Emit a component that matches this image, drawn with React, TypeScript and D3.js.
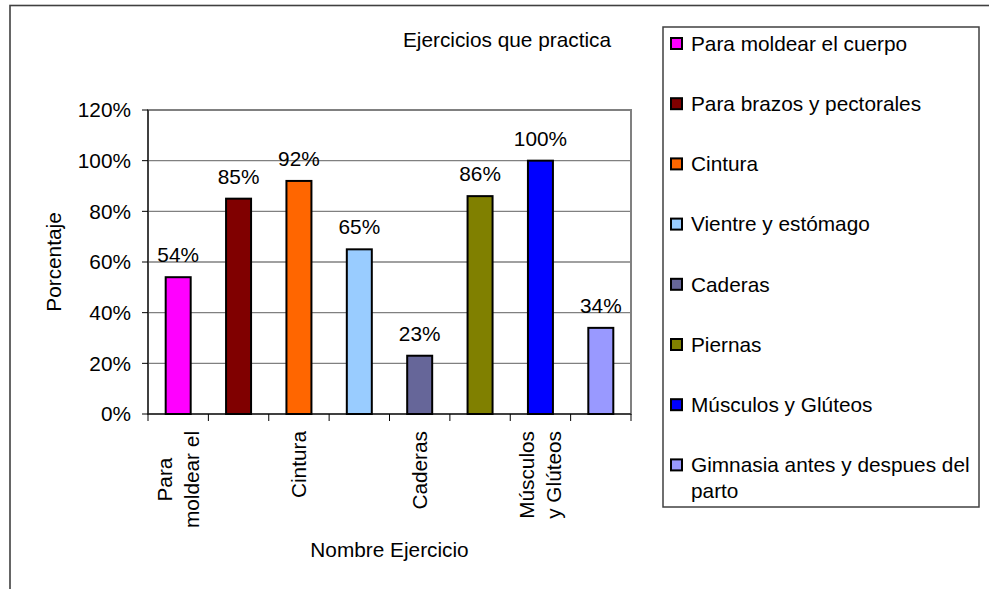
import React, { useMemo } from "react";
import { scaleBand, scaleLinear, range } from "d3";

// chart data
const categories = [
  "Para moldear el cuerpo",
  "Para brazos y pectorales",
  "Cintura",
  "Vientre y estómago",
  "Caderas",
  "Piernas",
  "Músculos y Glúteos",
  "Gimnasia antes y despues del parto",
];
const values = [0.54, 0.85, 0.92, 0.65, 0.23, 0.86, 1.0, 0.34];
const colors = [
  "#FF00FF",
  "#800000",
  "#FF6600",
  "#99CCFF",
  "#666699",
  "#808000",
  "#0000FF",
  "#9999FF",
];
// Excel only shows every other category label, cut and wrapped
const xTickLines = [
  ["Para", "moldear el"],
  [],
  ["Cintura"],
  [],
  ["Caderas"],
  [],
  ["Músculos", "y Glúteos"],
  [],
];
const yTicks = [0, 0.2, 0.4, 0.6, 0.8, 1.0, 1.2];

const FONT = "'Liberation Sans', Arial, Helvetica, sans-serif";
const FS = 20.8;

let ctx = null;
function textWidth(s) {
  if (!ctx) ctx = document.createElement("canvas").getContext("2d");
  ctx.font = `${FS}px ${FONT}`;
  return ctx.measureText(s).width;
}

function wrap(s, maxW) {
  const words = s.split(" ");
  const lines = [];
  let cur = "";
  words.forEach((w) => {
    const t = cur ? cur + " " + w : w;
    if (textWidth(t) > maxW && cur) {
      lines.push(cur);
      cur = w;
    } else cur = t;
  });
  if (cur) lines.push(cur);
  return lines;
}

function App() {
  const width = 989;
  const height = 589;
  const plot = { left: 148, right: 631, top: 110, bottom: 414 };
  const legend = { x: 663, y: 27, w: 316, h: 480 };

  const xScale = scaleBand()
    .domain(categories)
    .range([plot.left, plot.right])
    .paddingInner(0.586)
    .paddingOuter(0.293);
  const step = xScale.step();

  const yScale = scaleLinear().domain([0, 1.2]).range([plot.bottom, plot.top]);

  const legendLines = useMemo(
    () => categories.map((c) => wrap(c, legend.x + legend.w - 692 - 4)),
    []
  );

  const lineH = 27.5;

  return (
    <svg
      width={width}
      height={height}
      style={{ position: "absolute", left: 0, top: 0, background: "#fff" }}
      fontFamily={FONT}
      fontSize={FS}
    >
      <rect x={0} y={0} width={width} height={height} fill="#fff" />
      {/* outer chart frame */}
      <rect
        x={10}
        y={5.5}
        width={1000}
        height={600}
        fill="none"
        stroke="#404040"
        strokeWidth={1.6}
      />

      {/* title */}
      <text x={507} y={47} textAnchor="middle">
        Ejercicios que practica
      </text>

      {/* gridlines */}
      {yTicks.slice(1).map((t, i) => (
        <line
          key={i}
          x1={plot.left}
          x2={plot.right}
          y1={yScale(t)}
          y2={yScale(t)}
          stroke="#808080"
          strokeWidth={1.3}
        />
      ))}
      {/* plot border */}
      <rect
        x={plot.left}
        y={plot.top}
        width={plot.right - plot.left}
        height={plot.bottom - plot.top}
        fill="none"
        stroke="#808080"
        strokeWidth={2}
      />

      {/* bars */}
      {categories.map((c, i) => (
        <rect
          key={c}
          x={xScale(c)}
          y={yScale(values[i])}
          width={xScale.bandwidth()}
          height={plot.bottom - yScale(values[i])}
          fill={colors[i]}
          stroke="#000"
          strokeWidth={2}
        />
      ))}
      {/* data labels */}
      {categories.map((c, i) => (
        <text
          key={c}
          x={xScale(c) + xScale.bandwidth() / 2}
          y={yScale(values[i]) - 15}
          textAnchor="middle"
        >
          {Math.round(values[i] * 100)}%
        </text>
      ))}

      {/* y axis */}
      <line
        x1={plot.left}
        x2={plot.left}
        y1={plot.top}
        y2={plot.bottom}
        stroke="#000"
        strokeWidth={1}
      />
      {yTicks.map((t, i) => (
        <g key={i} transform={`translate(${plot.left},${yScale(t)})`}>
          <line x1={-6} x2={0} stroke="#000" />
          <text x={-17} dy="0.35em" textAnchor="end">
            {Math.round(t * 100)}%
          </text>
        </g>
      ))}

      {/* x axis */}
      <line
        x1={plot.left}
        x2={plot.right}
        y1={plot.bottom}
        y2={plot.bottom}
        stroke="#000"
        strokeWidth={1}
      />
      {range(categories.length + 1).map((i) => (
        <line
          key={i}
          x1={plot.left + i * step}
          x2={plot.left + i * step}
          y1={plot.bottom}
          y2={plot.bottom + 7}
          stroke="#000"
        />
      ))}
      {categories.map((c, i) => {
        const lines = xTickLines[i];
        if (!lines.length) return null;
        const cx = xScale(c) + xScale.bandwidth() / 2;
        const maxW = Math.max(...lines.map(textWidth));
        const n = lines.length;
        return (
          <g key={c} transform={`translate(${cx},431) rotate(-90)`}>
            {lines.map((l, j) => (
              <text
                key={j}
                x={n > 1 ? -maxW / 2 : 0}
                y={(j - (n - 1) / 2) * lineH}
                dy="0.35em"
                textAnchor={n > 1 ? "middle" : "end"}
              >
                {l}
              </text>
            ))}
          </g>
        );
      })}

      {/* axis titles */}
      <text
        transform={`translate(61,${(plot.top + plot.bottom) / 2}) rotate(-90)`}
        textAnchor="middle"
      >
        Porcentaje
      </text>
      <text x={(plot.left + plot.right) / 2} y={557} textAnchor="middle">
        Nombre Ejercicio
      </text>

      {/* legend */}
      <rect
        x={legend.x}
        y={legend.y}
        width={legend.w}
        height={legend.h}
        fill="#fff"
        stroke="#404040"
        strokeWidth={1.5}
      />
      {categories.map((c, i) => {
        const cy = 43.5 + i * 60.2;
        return (
          <g key={c}>
            <rect
              x={671}
              y={cy - 5.5}
              width={11}
              height={11}
              fill={colors[i]}
              stroke="#000"
              strokeWidth={2}
            />
            {legendLines[i].map((l, j) => (
              <text key={j} x={691} y={cy + j * 26} dy="0.35em">
                {l}
              </text>
            ))}
          </g>
        );
      })}
    </svg>
  );
}

export default App;
